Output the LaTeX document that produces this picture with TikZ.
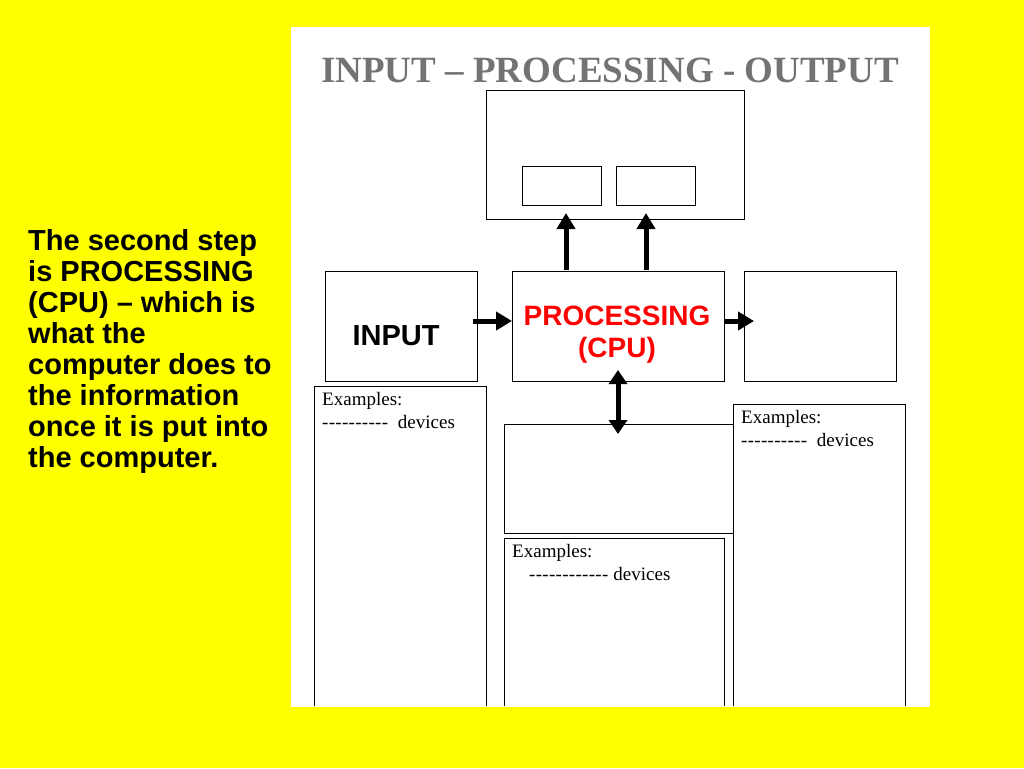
\documentclass[tikz,border=0pt]{standalone}
\usepackage{fontspec}
\setmainfont{Liberation Serif}
\newfontfamily\lsans{Liberation Sans}
\usetikzlibrary{arrows.meta}
\definecolor{bgy}{RGB}{255,255,0}
\newcommand\dd{-\kern0.3pt}
\begin{document}
\begin{tikzpicture}[x=1pt,y=-1pt,
  box/.style={draw=black,line width=1pt},
  ex/.style={anchor=west,font=\fontsize{19}{21}\selectfont,inner sep=0},
  arr/.style={line width=5pt,-{Triangle[length=16pt,width=18pt]}},
  darr/.style={line width=5pt,{Triangle[length=14pt,width=18pt]}-{Triangle[length=14pt,width=18pt]}}]
\useasboundingbox (0,0) rectangle (1024,768);
\fill[bgy] (0,0) rectangle (1024,768);
\fill[white] (291,27) rectangle (930,707);
\node (title) at (610,70) {\fontsize{37}{39}\selectfont\bfseries\color{black!55}INPUT – PROCESSING - OUTPUT};
\node[box,minimum width=258,minimum height=129,anchor=north west] (top) at (486,90) {};
\node[box,minimum width=79,minimum height=39,anchor=north west] (s1) at (522,166) {};
\node[box,minimum width=79,minimum height=39,anchor=north west] (s2) at (616,166) {};
\node[box,minimum width=152,minimum height=110,anchor=north west] (in) at (325,271) {};
\node[font=\lsans\bfseries\fontsize{29}{31}\selectfont] at (396,336) {INPUT};
\node[box,minimum width=212,minimum height=110,anchor=north west] (proc) at (512,271) {};
\node[align=center,font=\lsans\bfseries\fontsize{28}{32}\selectfont,text=red] at (617,335) {PROCESSING\\(CPU)};
\node[box,minimum width=152,minimum height=110,anchor=north west] (out) at (744,271) {};
\node[box,minimum width=229,minimum height=109,anchor=north west] (mem) at (504,424) {};
\draw[box] (314,706) -- (314,386) -- (486,386) -- (486,706);
\draw[box] (504,706) -- (504,538) -- (724,538) -- (724,706);
\draw[box] (733,706) -- (733,404) -- (905,404) -- (905,706);
\node[ex] at (322,401) {Examples:};
\node[ex] at (322,422) {\dd\dd\dd\dd\dd\dd\dd\dd\dd\dd\ \ devices};
\node[ex] at (512,553) {Examples:};
\node[ex] at (529,574) {\dd\dd\dd\dd\dd\dd\dd\dd\dd\dd\dd\dd\ devices};
\node[ex] at (741,419) {Examples:};
\node[ex] at (741,440) {\dd\dd\dd\dd\dd\dd\dd\dd\dd\dd\ \ devices};
\coordinate (a1) at (566,270); \coordinate (b1) at (566,213);
\coordinate (a2) at (646,270); \coordinate (b2) at (646,213);
\draw[arr] (a1) -- (b1);
\draw[arr] (a2) -- (b2);
\draw[arr] (473,321) -- (512,321);
\draw[arr] (724,321) -- (754,321);
\draw[darr] (618,370) -- (618,434);
\node[anchor=north west,align=left,font=\lsans\bfseries\fontsize{29}{31}\selectfont,inner sep=0] (txt) at (28,229) {The second step\\is PROCESSING\\(CPU) – which is\\what the\\computer does to\\the information\\once it is put into\\the computer.};
\end{tikzpicture}
\end{document}
